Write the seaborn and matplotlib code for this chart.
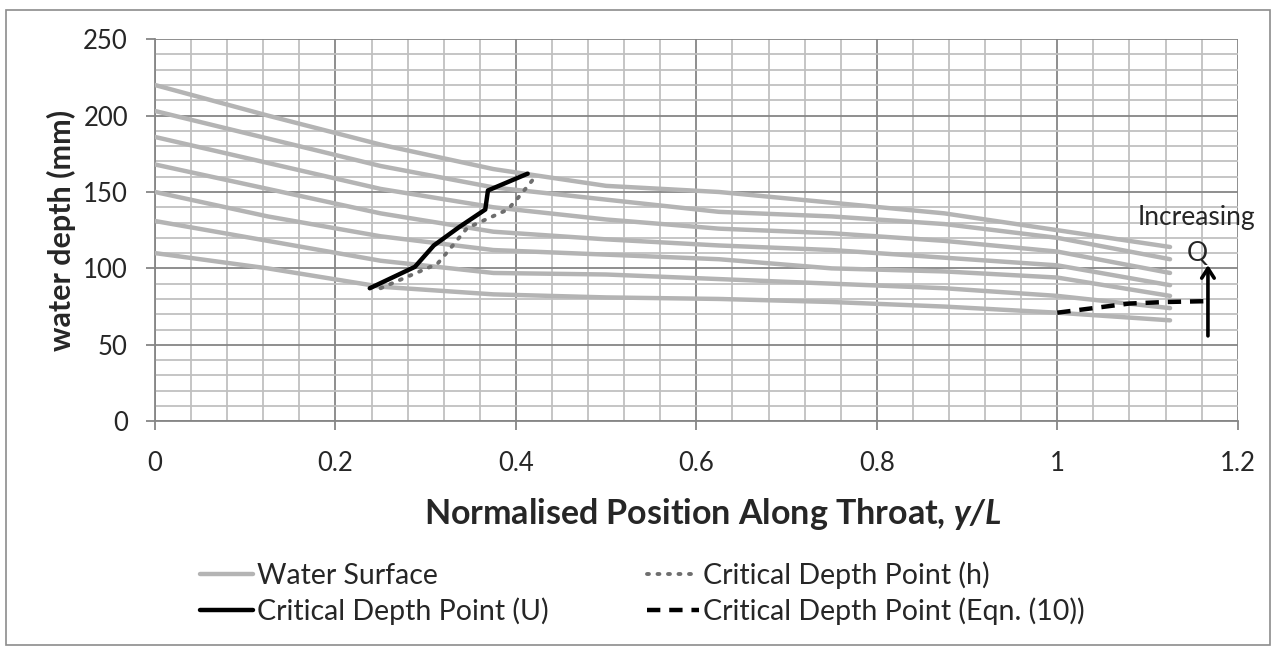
import numpy as np
import pandas as pd
import matplotlib
import matplotlib.pyplot as plt
import seaborn as sns
from matplotlib.lines import Line2D
from matplotlib.patches import Rectangle

# stations along the throat (normalised y/L)
stations = [0, 0.125, 0.25, 0.375, 0.5, 0.625, 0.75, 0.875, 1.0, 1.125]

# water surface profiles (mm), lowest flow at the bottom
ws_1 = [220, 200, 181, 165, 154, 150, 143, 136, 125, 114]
ws_2 = [203, 185, 167, 153, 145, 137, 134, 129, 120, 106]
ws_3 = [186, 169, 152, 140, 132, 126, 123, 118, 111, 97]
ws_4 = [168, 152, 136, 124, 119, 115, 112, 107, 102, 89]
ws_5 = [150, 134, 121, 112, 109, 106, 100, 98, 94, 82]
ws_6 = [131, 118, 105, 97, 96, 93, 90, 87, 82, 74]
ws_7 = [110, 100, 88, 83, 81, 80, 78, 75, 71, 66]

# critical depth point (h)
crit_h_x = [0.25, 0.313, 0.33, 0.346, 0.391, 0.405, 0.418]
crit_h_y = [87, 103, 115, 126.5, 138.5, 148, 157.5]

# critical depth point (U)
crit_u_x = [0.238, 0.288, 0.309, 0.337, 0.366, 0.369, 0.413]
crit_u_y = [87, 101, 115, 127, 138.5, 151, 162]

# critical depth point (Eqn. (10))
crit_eq_x = [1.0, 1.04, 1.08, 1.12, 1.162]
crit_eq_y = [71, 74, 77, 78, 78.5]

profiles = [ws_1, ws_2, ws_3, ws_4, ws_5, ws_6, ws_7]
ws_df = pd.concat([pd.DataFrame({"pos": stations, "depth": p, "run": i})
                   for i, p in enumerate(profiles)], ignore_index=True)

sns.set_style("white")
plt.rcParams["font.family"] = ["Lato", "DejaVu Sans"]
plt.rcParams["mathtext.fontset"] = "custom"
plt.rcParams["mathtext.bfit"] = "Lato:bold:italic"
plt.rcParams["mathtext.it"] = "Lato:italic"
plt.rcParams["mathtext.rm"] = "Lato"

fig = plt.figure(figsize=(12.76, 6.53), dpi=100)
ax = fig.add_axes([0.1215, 0.355, 0.8485, 0.585])

ws_col = "#b4b4b4"
sns.lineplot(data=ws_df, x="pos", y="depth", units="run", estimator=None,
             color=ws_col, lw=3.2, ax=ax, legend=False, zorder=3)
sns.lineplot(x=crit_h_x, y=crit_h_y, color="#6e6e6e", lw=2.8, ax=ax,
             estimator=None, sort=False, zorder=4)
ax.lines[-1].set_linestyle((0, (0.5, 2.2)))
ax.lines[-1].set_dash_capstyle("round")
sns.lineplot(x=crit_u_x, y=crit_u_y, color="black", lw=3.2, ax=ax,
             estimator=None, sort=False, zorder=5)
sns.lineplot(x=crit_eq_x, y=crit_eq_y, color="black", lw=3.2, ax=ax,
             estimator=None, sort=False, zorder=5)
ax.lines[-1].set_linestyle((0, (3, 2)))

ax.set_xlim(0, 1.2)
ax.set_ylim(0, 250)
ax.set_xticks(np.arange(0, 1.21, 0.2))
ax.set_xticklabels(["0", "0.2", "0.4", "0.6", "0.8", "1", "1.2"])
ax.set_yticks(np.arange(0, 251, 50))
ax.set_xticks(np.arange(0, 1.2001, 0.04), minor=True)
ax.set_yticks(np.arange(0, 251, 10), minor=True)
ax.grid(which="major", color="#868686", lw=1.3, zorder=1)
ax.grid(which="minor", color="#c0c0c0", lw=1.3, zorder=0)
ax.set_axisbelow(True)
ax.tick_params(which="major", direction="out", length=6.5, width=1.3,
               color="#868686", labelsize=18.5, left=True, bottom=True)
ax.tick_params(axis="y", which="major", pad=13)
ax.tick_params(axis="x", which="major", pad=15)
ax.tick_params(which="minor", length=0)
for s in ["top", "right"]:
    ax.spines[s].set_visible(False)
ax.spines["left"].set_color("#868686")
ax.spines["bottom"].set_color("#868686")
ax.spines["left"].set_linewidth(1.3)
ax.spines["bottom"].set_linewidth(1.3)

ax.set_xlabel(r"Normalised Position Along Throat, $\mathbfit{y/L}$",
              fontsize=24.5, fontweight="bold")
ax.xaxis.set_label_coords(0.515, -0.195)
ax.set_ylabel("water depth (mm)", fontsize=22, fontweight="bold", labelpad=5)

# increasing Q annotation
ax.annotate("", xy=(1.167, 104), xytext=(1.167, 54),
            arrowprops=dict(arrowstyle="->,head_length=0.7,head_width=0.45",
                            color="black", lw=2.6), zorder=6)
ax.text(1.154, 133, "Increasing", ha="center", va="center", fontsize=19,
        clip_on=False, zorder=6)
ax.text(1.155, 110, "Q", ha="center", va="center", fontsize=19,
        clip_on=False, zorder=6)

handles = [
    Line2D([], [], color=ws_col, lw=3.2),
    Line2D([], [], color="black", lw=3.2),
    Line2D([], [], color="#6e6e6e", lw=2.8, ls=(0, (0.5, 2.2)), dash_capstyle="round"),
    Line2D([], [], color="black", lw=3.2, ls=(0, (3, 2))),
]
labels = ["Water Surface", "Critical Depth Point (U)",
          "Critical Depth Point (h)", "Critical Depth Point (Eqn. (10))"]
fig.legend(handles, labels, ncol=2, loc="center left",
           bbox_to_anchor=(200 / 1276, 0.092), frameon=False, fontsize=20.5,
           handlelength=1.85, handletextpad=0.14, columnspacing=3.45,
           labelspacing=0.3, borderpad=0, borderaxespad=0)

fig.patches.append(Rectangle((0.005, 0.012), 0.99, 0.973, transform=fig.transFigure,
                             fill=False, edgecolor="#8c8c8c", lw=1.2))

fig.savefig("out.png", dpi=100)
